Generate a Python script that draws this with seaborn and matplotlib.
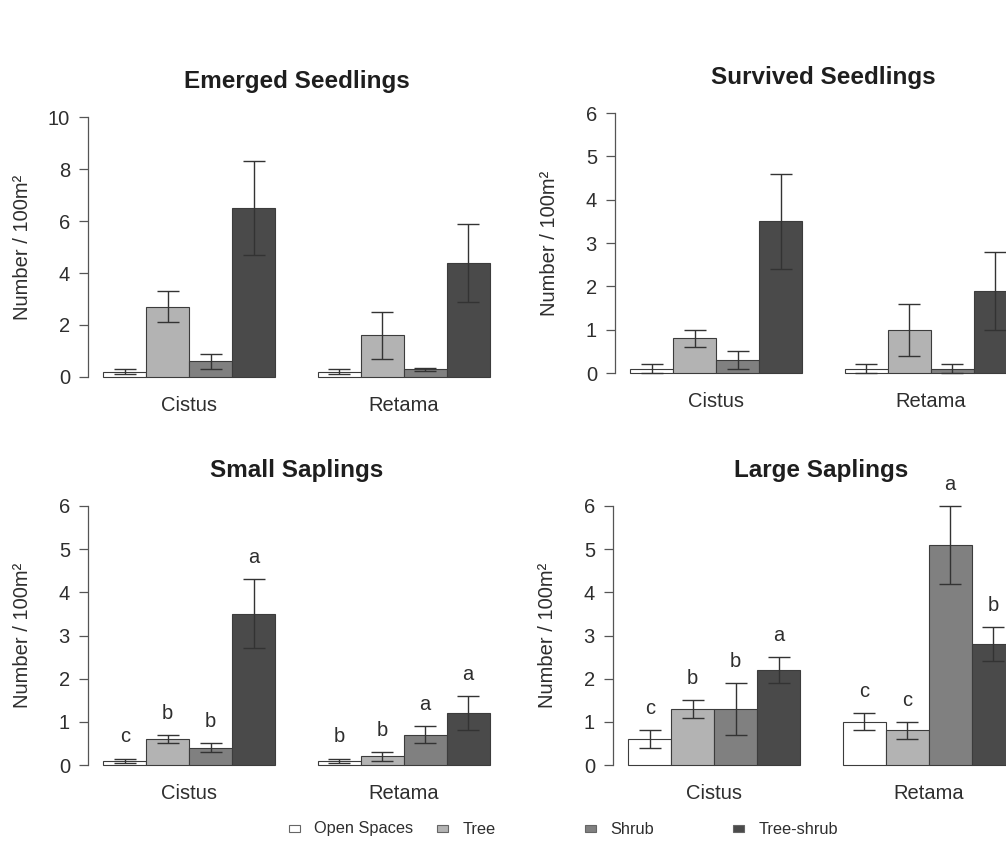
import numpy as np
import pandas as pd
import matplotlib
matplotlib.use('Agg')
import matplotlib.pyplot as plt
import seaborn as sns
from matplotlib.patches import Rectangle

# groups and habitats
species = ['Cistus', 'Retama']
habitats = ['Open Spaces', 'Tree', 'Shrub', 'Tree-shrub']
habitat_colors = ['#ffffff', '#b3b3b3', '#808080', '#4a4a4a']

panel_titles = ['Emerged Seedlings', 'Survived Seedlings', 'Small Saplings', 'Large Saplings']
panel_ymax = [10, 6, 6, 6]
panel_ystep = [2, 1, 1, 1]

# values: Cistus (4 habitats) then Retama (4 habitats)
emerged_mean = [0.2, 2.7, 0.6, 6.5, 0.2, 1.6, 0.3, 4.4]
emerged_se = [0.1, 0.6, 0.3, 1.8, 0.1, 0.9, 0.05, 1.5]
survived_mean = [0.1, 0.8, 0.3, 3.5, 0.1, 1.0, 0.1, 1.9]
survived_se = [0.1, 0.2, 0.2, 1.1, 0.1, 0.6, 0.1, 0.9]
small_mean = [0.1, 0.6, 0.4, 3.5, 0.1, 0.2, 0.7, 1.2]
small_se = [0.05, 0.1, 0.1, 0.8, 0.05, 0.1, 0.2, 0.4]
small_letters = ['c', 'b', 'b', 'a', 'b', 'b', 'a', 'a']
large_mean = [0.6, 1.3, 1.3, 2.2, 1.0, 0.8, 5.1, 2.8]
large_se = [0.2, 0.2, 0.6, 0.3, 0.2, 0.2, 0.9, 0.4]
large_letters = ['c', 'b', 'b', 'a', 'c', 'c', 'a', 'b']

means = [emerged_mean, survived_mean, small_mean, large_mean]
errors = [emerged_se, survived_se, small_se, large_se]
letters = [None, None, small_letters, large_letters]

sns.set_style('white')
plt.rcParams['font.family'] = ['Liberation Sans', 'DejaVu Sans']
txt = '#2e2e2e'

W, H = 1006, 841
fig = plt.figure(figsize=(W / 100, H / 100), dpi=100)

# axes boxes in pixels: left, top, bottom (right column runs off the picture)
boxes = [(88, 106.6, 387.4), (615, 102.6, 383.4), (88, 495.6, 775.4), (613, 495.6, 775.4)]
axw = 417

for k in range(4):
    l, t, b = boxes[k]
    ax = fig.add_axes([l / W, 1 - b / H, axw / W, (b - t) / H])
    df = pd.DataFrame({'species': np.repeat(species, len(habitats)),
                       'habitat': habitats * len(species),
                       'value': means[k]})
    sns.barplot(data=df, x='species', y='value', hue='habitat',
                order=species, hue_order=habitats,
                palette=dict(zip(habitats, habitat_colors)), saturation=1,
                width=0.8, errorbar=None, edgecolor='#3c3c3c', linewidth=0.8,
                legend=False, ax=ax)

    bars = sorted(ax.patches, key=lambda p: p.get_x())
    xs = [p.get_x() + p.get_width() / 2 for p in bars]
    ax.errorbar(xs, means[k], yerr=errors[k], fmt='none', ecolor='#333333',
                elinewidth=1, capsize=8, capthick=1, zorder=5)

    if letters[k] is not None:
        for x, m, e, s in zip(xs, means[k], errors[k], letters[k]):
            ax.text(x, m + e + 0.5, s, ha='center', va='center',
                    fontsize=14.5, color=txt, clip_on=False)

    ymax = panel_ymax[k]
    ax.set_xlim(-0.472, 1.472)
    ax.set_ylim(-0.04 * ymax, 1.04 * ymax)
    ax.set_yticks(np.arange(0, ymax + 1, panel_ystep[k]))
    for side in ['top', 'right', 'bottom']:
        ax.spines[side].set_visible(False)
    ax.spines['left'].set_bounds(0, ymax)
    ax.spines['left'].set_color('#555555')
    ax.spines['left'].set_linewidth(0.9)
    ax.tick_params(axis='x', length=0, pad=6.5, labelsize=14.5, colors=txt)
    ax.tick_params(axis='y', length=6.5, width=0.9, pad=6.5, labelsize=14.5,
                   colors='#555555', labelcolor=txt, left=True)
    ax.set_xlabel('')
    ax.set_ylabel('Number / 100m²', fontsize=14.5, color=txt)
    ax.yaxis.set_label_coords(-0.157, 0.5)
    ax.yaxis.label.set_verticalalignment('center')
    ax.set_title(panel_titles[k], fontweight='bold', fontsize=17.5, pad=13.5, color='#1e1e1e')

# legend along the bottom, drawn by hand so all labels share one baseline
ly = 1 - 828 / H
for j, (name, col) in enumerate(zip(habitats, habitat_colors)):
    x0 = 0.2875 + j * 0.1472
    fig.add_artist(Rectangle((x0, ly - 3.5 / H), 11 / W, 7 / H, transform=fig.transFigure,
                             facecolor=col, edgecolor='#666666', linewidth=0.8))
    fig.text(x0 + 25 / W, ly - 5.5 / H, name, fontsize=11.8, color=txt,
             ha='left', va='baseline')

fig.savefig('out.png', dpi=100)
